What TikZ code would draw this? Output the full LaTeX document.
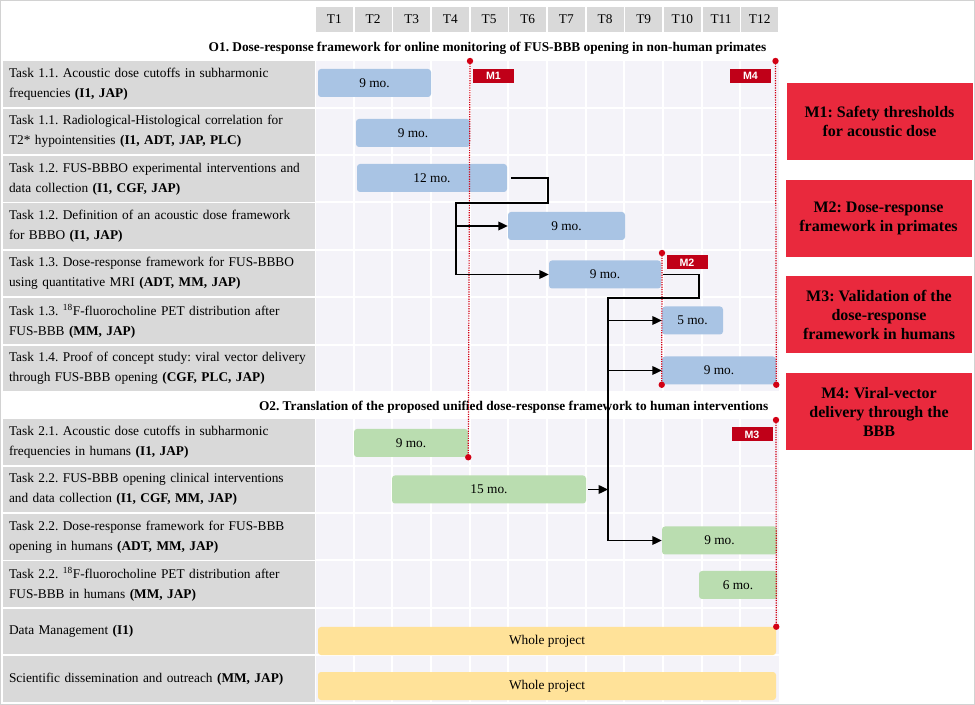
\documentclass[tikz,border=0pt]{standalone}
\usepackage{fontspec}
\setmainfont{Liberation Serif}
\newfontfamily\tagfont{Liberation Sans}
\usetikzlibrary{arrows.meta}
\definecolor{cellgray}{RGB}{217,217,217}
\definecolor{gridbg}{RGB}{244,243,249}
\definecolor{barblue}{RGB}{169,196,228}
\definecolor{bargreen}{RGB}{186,221,176}
\definecolor{baryellow}{RGB}{255,226,153}
\definecolor{msred}{RGB}{233,41,61}
\definecolor{tagred}{RGB}{192,0,24}
\definecolor{dotred}{RGB}{210,0,20}
\newcommand{\pxl}{0.75pt}

\begin{document}
\begin{tikzpicture}[x=0.75pt,y=-0.75pt,
    every node/.style={font=\frenchspacing\fontsize{10}{15}\selectfont},
    hdr/.style={fill=cellgray,minimum width=37*\pxl,minimum height=25*\pxl,inner sep=0pt},
    task/.style={fill=cellgray,minimum width=312*\pxl,minimum height=45.5*\pxl,text width=300*\pxl,align=left,inner xsep=6*\pxl,inner ysep=0pt},
    bar/.style={rounded corners=3*\pxl,minimum height=28*\pxl,inner sep=0pt},
    o1bar/.style={bar,fill=barblue},
    o2bar/.style={bar,fill=bargreen},
    allbar/.style={bar,fill=baryellow},
    tag/.style={fill=tagred,text=white,font=\tagfont\bfseries\fontsize{8}{8}\selectfont,minimum width=41*\pxl,minimum height=14*\pxl,inner sep=0pt},
    msbox/.style={fill=msred,minimum width=186*\pxl,minimum height=77*\pxl,align=center,inner sep=0pt,font=\frenchspacing\bfseries\fontsize{12}{14.5}\selectfont},
    ohdr/.style={anchor=east,font=\frenchspacing\bfseries\fontsize{10}{12}\selectfont},
    msline/.style={dotred,line width=0.9pt,dash pattern=on 0.9pt off 0.9pt},
    link/.style={black,line width=1pt},
    arr/.style={link,-{Triangle[length=7pt,width=6.5pt]}}]
\useasboundingbox (0,0) rectangle (975,705);
\draw[gray!35,line width=0.75pt] (0.5,0.5) rectangle (974.5,704.5);

\fill[gridbg] (316,61) rectangle (779,391.5);
\fill[gridbg] (316,419) rectangle (779,702);
\foreach \k in {1,...,11}
    \draw[white,line width=1.5pt] ({315+38.67*\k},61) -- ({315+38.67*\k},702);
\foreach \y in {107.7,155.1,202.5,249.9,297.3,344.7,465.7,513.1,560.5,607.9,655.3}
    \draw[white,line width=1.5pt] (316,\y) -- (779,\y);
\foreach \i in {1,...,12}
    \node[hdr] (h\i) at ({315+38.67*(\i-0.5)},19.5) {T\i};

\node[ohdr] (o1) at (771,48) {O1. Dose-response framework for online monitoring of FUS-BBB opening in non-human primates};
\node[ohdr] (o2) at (773,407) {O2. Translation of the proposed unified dose-response framework to human interventions};

\node[task] (l11) at (159,84) {Task 1.1. Acoustic dose cutoffs in subharmonic\\frequencies \textbf{(I1, JAP)}};
\node[task] (l12) at (159,131.4) {Task 1.1. Radiological-Histological correlation for\\T2* hypointensities \textbf{(I1, ADT, JAP, PLC)}};
\node[task] (l13) at (159,178.8) {Task 1.2. FUS-BBBO experimental interventions and\\data collection \textbf{(I1, CGF, JAP)}};
\node[task] (l14) at (159,226.2) {Task 1.2. Definition of an acoustic dose framework\\for BBBO \textbf{(I1, JAP)}};
\node[task] (l15) at (159,273.6) {Task 1.3. Dose-response framework for FUS-BBBO\\using quantitative MRI \textbf{(ADT, MM, JAP)}};
\node[task] (l16) at (159,321) {Task 1.3. \textsuperscript{18}F-fluorocholine PET distribution after\\FUS-BBB \textbf{(MM, JAP)}};
\node[task] (l17) at (159,368.4) {Task 1.4. Proof of concept study: viral vector delivery\\through FUS-BBB opening \textbf{(CGF, PLC, JAP)}};
\node[task] (l21) at (159,442) {Task 2.1. Acoustic dose cutoffs in subharmonic\\frequencies in humans \textbf{(I1, JAP)}};
\node[task] (l22) at (159,489.4) {Task 2.2. FUS-BBB opening clinical interventions\\and data collection \textbf{(I1, CGF, MM, JAP)}};
\node[task] (l23) at (159,536.8) {Task 2.2. Dose-response framework for FUS-BBB\\opening in humans \textbf{(ADT, MM, JAP)}};
\node[task] (l24) at (159,584.2) {Task 2.2. \textsuperscript{18}F-fluorocholine PET distribution after\\FUS-BBB in humans \textbf{(MM, JAP)}};
\node[task] (ldm) at (159,631.6) {Data Management \textbf{(I1)}};
\node[task] (lsd) at (159,679) {Scientific dissemination and outreach \textbf{(MM, JAP)}};

\node[o1bar,minimum width=113*\pxl] (t11) at (374.5,83) {9 mo.};
\node[o1bar,minimum width=114*\pxl] (t12) at (413,133) {9 mo.};
\node[o1bar,minimum width=150*\pxl] (t13) at (432,178) {12 mo.};
\node[o1bar,minimum width=117*\pxl] (t14) at (566.5,226) {9 mo.};
\node[o1bar,minimum width=112*\pxl] (t15) at (605,274.5) {9 mo.};
\node[o1bar,minimum width=61*\pxl] (t16) at (692.5,320.5) {5 mo.};
\node[o1bar,minimum width=114*\pxl] (t17) at (719,370.5) {9 mo.};
\node[o2bar,minimum width=114*\pxl] (t21) at (411,443) {9 mo.};
\node[o2bar,minimum width=194*\pxl] (t22) at (489,489.5) {15 mo.};
\node[o2bar,minimum width=115*\pxl] (t23) at (719.5,540.5) {9 mo.};
\node[o2bar,minimum width=78*\pxl] (t24) at (738,585) {6 mo.};
\node[allbar,minimum width=458*\pxl] (dm) at (547,641) {Whole project};
\node[allbar,minimum width=458*\pxl] (sd) at (547,686) {Whole project};

\coordinate (d1top) at (470,61);
\coordinate (d2top) at (775.5,61);
\coordinate (d3top) at (662,253);
\coordinate (d4top) at (776,420);
\draw[msline] (d1top) -- (t21.south east);
\draw[msline] (d2top) -- (t17.south east);
\draw[msline] (d3top) -- (t17.south west);
\draw[msline] (d4top) -- (dm.north east);
\foreach \p in {d1top,d2top,d3top,d4top,t21.south east,t17.south east,t17.south west,dm.north east}
    \fill[dotred] (\p) circle (2.4pt);

\coordinate (j1r) at (548,203);
\coordinate (j1) at (456,203);
\draw[arr] ([xshift=3pt]t13.east) -| (j1r) -- (j1) |- (t15.west);
\draw[arr] (j1 |- t14.west) -- (t14.west);
\coordinate (j2r) at (699,298);
\coordinate (j2) at (608,298);
\draw[arr] ([xshift=1pt]t15.east) -| (j2r) -- (j2) |- (t23.west);
\draw[arr] (j2 |- t16.west) -- (t16.west);
\draw[arr] (j2 |- t17.west) -- (t17.west);
\draw[arr] ([xshift=1.5pt]t22.east) -- (j2 |- t22.east);

\node[tag] (m1) at (493.5,76) {M1};
\node[tag] (m4) at (750.5,76) {M4};
\node[tag] (m2) at (687,262.5) {M2};
\node[tag] (m3) at (752,434.5) {M3};

\node[msbox] (ms1) at (879.5,121.5) {M1: Safety thresholds\\for acoustic dose};
\node[msbox] (ms2) at (878.5,218.5) {M2: Dose-response\\framework in primates};
\node[msbox] (ms3) at (879,315) {M3: Validation of the\\dose-response\\framework in humans};
\node[msbox] (ms4) at (879,412) {M4: Viral-vector\\delivery through the\\BBB};
\end{tikzpicture}
\end{document}
